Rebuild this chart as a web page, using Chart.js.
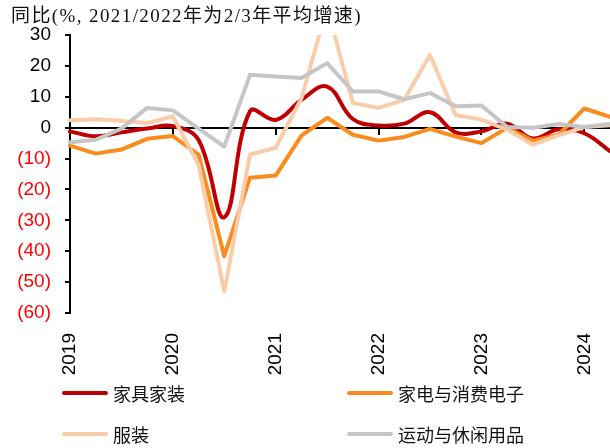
<!DOCTYPE html>
<html>
<head>
<meta charset="utf-8">
<script src="https://cdn.jsdelivr.net/npm/chart.js@4/dist/chart.umd.min.js"></script>
<style>
  html, body { margin: 0; padding: 0; background: #fff; overflow: hidden; }
  #wrap { position: relative; width: 610px; height: 448px; }
  #chart { position: absolute; left: 0; top: 0; }
  #title {
    position: absolute; left: 11px; top: 0px; white-space: nowrap; letter-spacing: 1.4px;
    font: 19px "Liberation Serif", "Noto Sans CJK SC", serif; color: #111;
  }
  .leg {
    position: absolute; display: flex; align-items: center; white-space: nowrap;
    font: 18px "Noto Sans CJK SC", sans-serif; color: #111;
  }
  .leg i { display: inline-block; width: 46px; height: 4px; border-radius: 2px; margin-right: 5px; }
</style>
</head>
<body>
<div id="wrap">
  <canvas id="chart" width="610" height="448"></canvas>
  <div id="title">同比(%, 2021/2022年为2/3年平均增速)</div>
  <div id="legend"></div>
</div>
<script>
// ── Data ──────────────────────────────────────────────────────
const QUARTERS = ['2019Q1','2019Q2','2019Q3','2019Q4','2020Q1','2020Q2','2020Q3','2020Q4',
                  '2021Q1','2021Q2','2021Q3','2021Q4','2022Q1','2022Q2','2022Q3','2022Q4',
                  '2023Q1','2023Q2','2023Q3','2023Q4','2024Q1','2024Q2'];
const YEAR_LABELS = ['2019', '2020', '2021', '2022', '2023', '2024'];

const FURNITURE   = [-1.2, -2.8, -1.5, -0.3, 0.5, -4, -29, 5.3, 2.5, 9, 13.3, 2.8, 0.7, 1.3, 5.0, -1.5, -1.2, 1.3, -3.5, -0.5, -1.8, -7.6];
const APPLIANCES  = [-5.8, -8.4, -7.1, -3.6, -2.7, -8.7, -41.6, -16.2, -15.5, -2.6, 3.2, -2.3, -4.2, -3.0, -0.4, -2.9, -5.0, 0, -4.2, -2.3, 6.2, 3.5];
const APPAREL     = [2.4, 2.7, 2.2, 1.5, 3.6, -12, -53, -8.7, -6.5, 9.5, 39, 8, 6.4, 9.0, 23.5, 4.0, 2.6, -0.6, -5.5, -2.5, 0.2, 0.8];
const SPORTS      = [-4.7, -3.9, -0.3, 6.4, 5.6, -0.3, -6.1, 17.1, 16.6, 16.1, 20.9, 11.7, 11.7, 9.2, 11.2, 6.9, 7.2, 0.2, 0, 1.2, 0.2, 1.2];

const SERIES = [
  { label: '家具家装',       data: FURNITURE,  color: '#C00000', tension: 0.4, order: 3 },
  { label: '家电与消费电子', data: APPLIANCES, color: '#F88D1E', tension: 0,   order: 2 },
  { label: '服装',           data: APPAREL,    color: '#F9CDAA', tension: 0,   order: 1 },
  { label: '运动与休闲用品', data: SPORTS,     color: '#C6C6C6', tension: 0,   order: 0 },
];

// ── Legend (HTML, 2x2) ────────────────────────────────────────
const LEG_POS = [[62, 380], [347, 380], [62, 421], [347, 421]];
document.getElementById('legend').innerHTML = SERIES.map((s, i) => `
  <div class="leg" style="left:${LEG_POS[i][0]}px;top:${LEG_POS[i][1]}px">
    <i style="background:${s.color}"></i>${s.label}
  </div>`).join('');

// ── Chart ─────────────────────────────────────────────────────
const AXIS_FONT = { family: 'Liberation Sans', size: 19 };

new Chart(document.getElementById('chart'), {
  type: 'line',
  data: {
    labels: QUARTERS,
    datasets: SERIES.map(s => ({
      label: s.label,
      data: s.data,
      borderColor: s.color,
      backgroundColor: s.color,
      borderWidth: 4,
      pointRadius: 0,
      tension: s.tension,
      order: s.order,
      borderCapStyle: 'round',
      borderJoinStyle: 'round',
    })),
  },
  options: {
    responsive: false,
    animation: false,
    layout: { padding: { top: 35, left: 0, right: 0, bottom: 70 } },
    plugins: { legend: { display: false }, tooltip: { enabled: false } },
    scales: {
      y: {
        min: -60, max: 30,
        ticks: {
          stepSize: 10, padding: 14, font: AXIS_FONT,
          color: c => c.tick.value < 0 ? '#FF0000' : '#000',
          callback: v => v < 0 ? `(${-v})` : v,
        },
        grid: { drawOnChartArea: false, tickLength: 5, color: '#000', lineWidth: 2 },
        border: { color: '#000', width: 2 },
        afterFit: s => { s.width = 70; },
      },
      // zero line with year tick marks
      x: {
        position: { y: 0 },
        ticks: { display: false, autoSkip: false },
        grid: {
          drawOnChartArea: false, tickLength: 6, lineWidth: 2,
          color: c => (c.index % 4 === 0 && c.index > 0) ? '#000' : 'rgba(0,0,0,0)',
        },
        border: { color: '#000', width: 2 },
      },
      // year labels at the bottom
      x2: {
        type: 'category',
        labels: QUARTERS,
        position: 'bottom',
        grid: { display: false },
        border: { display: false },
        ticks: {
          autoSkip: false, minRotation: 90, maxRotation: 90, padding: 12,
          font: AXIS_FONT, color: '#000',
          callback: (v, i) => i % 4 === 0 ? YEAR_LABELS[i / 4] : '',
        },
        afterFit: s => { s.height = 65; s.paddingLeft = 0; s.paddingRight = 0; },
      },
    },
  },
});
</script>
</body>
</html>
